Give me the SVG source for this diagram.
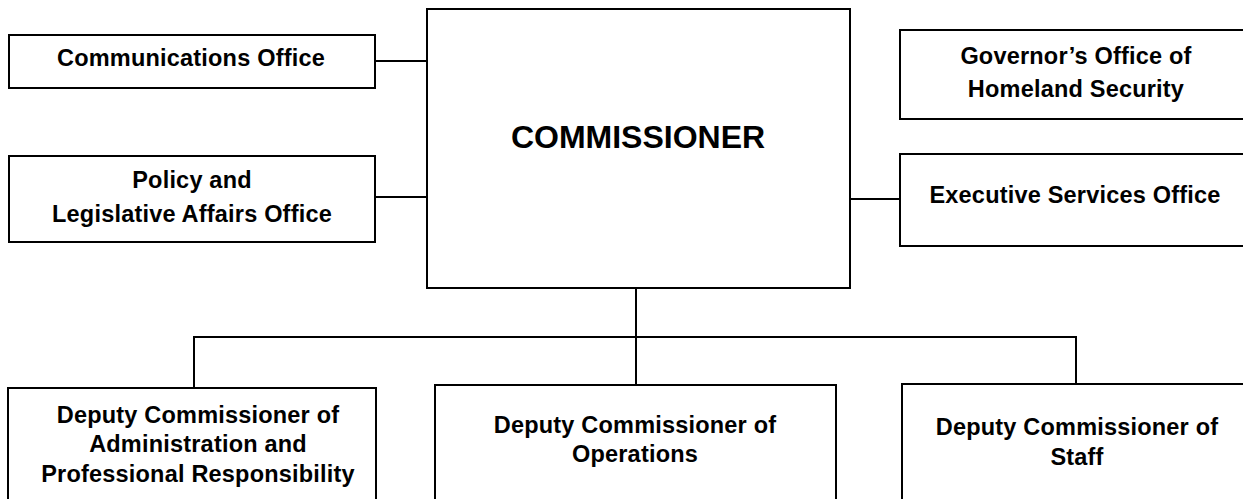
<svg xmlns="http://www.w3.org/2000/svg" width="1243" height="499" viewBox="0 0 1243 499">
<style>
.box{fill:#fff;stroke:#000;stroke-width:2}
.ln{fill:none;stroke:#000;stroke-width:2}
.t{font-family:"Liberation Sans",Arial,sans-serif;font-weight:bold;font-size:23.5px;letter-spacing:0.2px;text-anchor:middle;fill:#000}
.big{font-family:"Liberation Sans",Arial,sans-serif;font-weight:bold;font-size:32px;text-anchor:middle;fill:#000}
</style>
<rect width="1243" height="499" fill="#fff"/>
<g id="connectors">
<line class="ln" x1="376" y1="61" x2="427" y2="61"/>
<line class="ln" x1="376" y1="197" x2="427" y2="197"/>
<line class="ln" x1="850" y1="199" x2="900" y2="199"/>
<line class="ln" x1="636" y1="288" x2="636" y2="385"/>
<polyline class="ln" points="194,388 194,337 1076,337 1076,384"/>
</g>
<g id="commissioner">
<rect class="box" x="427" y="9" width="423" height="279"/>
<text class="big" x="638" y="148">COMMISSIONER</text>
</g>
<g id="communications">
<rect class="box" x="9" y="35" width="366" height="53"/>
<text class="t" x="191" y="66">Communications Office</text>
</g>
<g id="policy">
<rect class="box" x="9" y="156" width="366" height="86"/>
<text class="t" x="192" y="188">Policy and</text>
<text class="t" x="192" y="222">Legislative Affairs Office</text>
</g>
<g id="governor">
<rect class="box" x="900" y="30" width="360" height="89"/>
<text class="t" x="1076" y="64">Governor’s Office of</text>
<text class="t" x="1076" y="97">Homeland Security</text>
</g>
<g id="executive">
<rect class="box" x="900" y="154" width="360" height="92"/>
<text class="t" x="1075" y="203">Executive Services Office</text>
</g>
<g id="deputy-admin">
<rect class="box" x="8" y="388" width="368" height="200"/>
<text class="t" x="198" y="423">Deputy Commissioner of</text>
<text class="t" x="198" y="452">Administration and</text>
<text class="t" x="198" y="482">Professional Responsibility</text>
</g>
<g id="deputy-operations">
<rect class="box" x="435" y="385" width="401" height="200"/>
<text class="t" x="635" y="433">Deputy Commissioner of</text>
<text class="t" x="635" y="462">Operations</text>
</g>
<g id="deputy-staff">
<rect class="box" x="902" y="384" width="400" height="200"/>
<text class="t" x="1077" y="435">Deputy Commissioner of</text>
<text class="t" x="1077" y="465">Staff</text>
</g>
</svg>
